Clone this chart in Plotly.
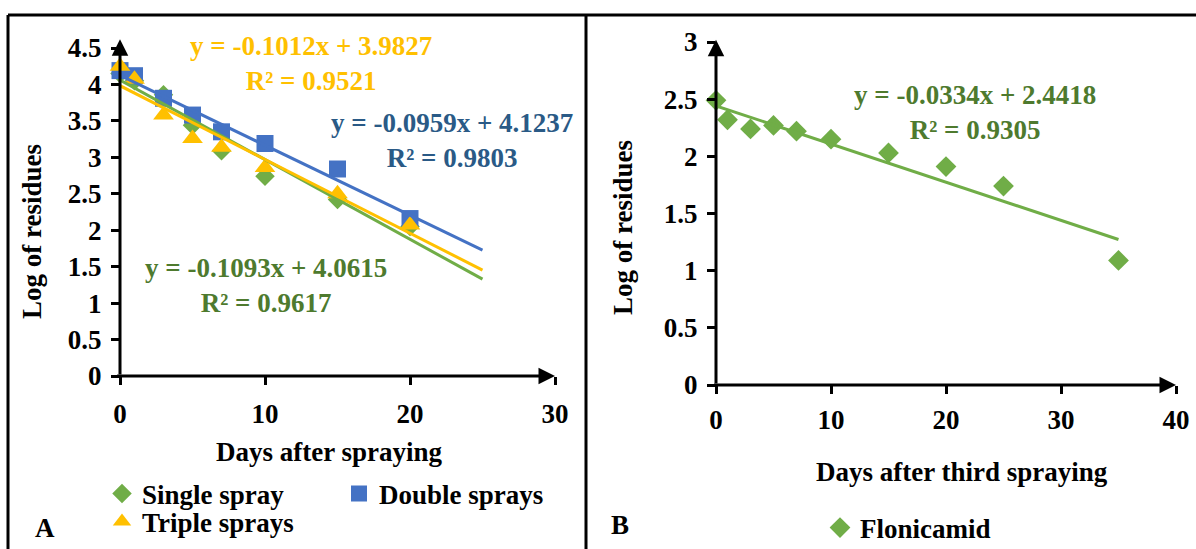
import plotly.graph_objects as go

# ---------------- data ----------------
days_a = [0, 1, 3, 5, 7, 10, 15, 20]
single_spray = [4.15, 4.05, 3.86, 3.44, 3.09, 2.74, 2.42, 2.05]
double_sprays = [4.19, 4.12, 3.81, 3.58, 3.35, 3.19, 2.84, 2.16]
triple_sprays = [4.25, 4.07, 3.58, 3.26, 3.14, 2.86, 2.50, 2.07]

days_b = [0, 1, 3, 5, 7, 10, 15, 20, 25, 35]
flonicamid = [2.49, 2.32, 2.24, 2.27, 2.22, 2.15, 2.03, 1.91, 1.74, 1.09]

# trendline coefficients (slope, intercept, R²) as printed on the chart
trend_single = (-0.1093, 4.0615, 0.9617)
trend_double = (-0.0959, 4.1237, 0.9803)
trend_triple = (-0.1012, 3.9827, 0.9521)
trend_flon = (-0.0334, 2.4418, 0.9305)
trend_x_a = [0, 25]
trend_x_b = [0, 35]

x_ticks_a = [0, 10, 20, 30]
x_ticks_b = [0, 10, 20, 30, 40]

# ---------------- style ----------------
GREEN = "#70AD47"
BLUE = "#4472C4"
YELLOW = "#FFC000"
GREEN_TXT = "#4E7A2E"
BLUE_TXT = "#2A5A86"
FONT = "Liberation Serif"
FS = 27
W, H = 1196, 549


def px(x):
    return x / W


def py(y):
    return 1 - y / H


fig = go.Figure()

# markers, panel A
fig.add_trace(go.Scatter(x=days_a, y=single_spray, mode="markers", name="Single spray",
                         marker=dict(symbol="diamond", size=15, color=GREEN),
                         cliponaxis=False, legend="legend"))
fig.add_trace(go.Scatter(x=days_a, y=double_sprays, mode="markers", name="Double sprays",
                         marker=dict(symbol="square", size=17, color=BLUE),
                         cliponaxis=False, legend="legend"))
fig.add_trace(go.Scatter(x=days_a, y=triple_sprays, mode="markers", name="Triple sprays",
                         marker=dict(symbol="triangle-up", size=18, color=YELLOW),
                         cliponaxis=False, legend="legend2"))


def line_pts(coef, xs):
    return [coef[0] * x + coef[1] for x in xs]


for coef, col in [(trend_single, GREEN), (trend_double, BLUE), (trend_triple, YELLOW)]:
    fig.add_trace(go.Scatter(x=trend_x_a, y=line_pts(coef, trend_x_a), mode="lines",
                             line=dict(color=col, width=3), showlegend=False,
                             cliponaxis=False, hoverinfo="skip"))

# panel B
fig.add_trace(go.Scatter(x=days_b, y=flonicamid, mode="markers", name="Flonicamid",
                         marker=dict(symbol="diamond", size=16, color=GREEN),
                         cliponaxis=False, xaxis="x2", yaxis="y2", legend="legend3"))
fig.add_trace(go.Scatter(x=trend_x_b, y=line_pts(trend_flon, trend_x_b), mode="lines",
                         line=dict(color=GREEN, width=3), showlegend=False,
                         cliponaxis=False, hoverinfo="skip", xaxis="x2", yaxis="y2"))

tickfont = dict(family=FONT, size=FS, color="black", weight="bold")
axis_common = dict(showgrid=False, zeroline=False, showline=False, ticks="outside",
                   ticklen=8, tickwidth=2.5, tickcolor="black", tickfont=tickfont)
legfont = dict(family=FONT, size=FS, color="black", weight="bold")

fig.update_layout(
    width=W, height=H,
    margin=dict(l=0, r=0, t=0, b=0, autoexpand=False),
    paper_bgcolor="white", plot_bgcolor="white",
    font=dict(family=FONT, color="black"),
    xaxis=dict(domain=[px(120), px(555)], range=[0, 30], tickvals=x_ticks_a,
               anchor="y", ticklabelstandoff=6, **axis_common),
    yaxis=dict(domain=[py(376), py(48)], range=[0, 4.5], dtick=0.5,
               anchor="x", ticklabelstandoff=4, **axis_common),
    xaxis2=dict(domain=[px(716), px(1176)], range=[0, 40], tickvals=x_ticks_b,
                anchor="y2", ticklabelstandoff=3, **axis_common),
    yaxis2=dict(domain=[py(385), py(42)], range=[0, 3], dtick=0.5,
                anchor="x2", ticklabelstandoff=4, **axis_common),
    legend=dict(orientation="h", x=px(102), y=py(494), yanchor="middle", xanchor="left",
                font=legfont, entrywidth=192, entrywidthmode="pixels", itemwidth=30,
                bgcolor="rgba(0,0,0,0)", tracegroupgap=0),
    legend2=dict(orientation="h", x=px(102), y=py(522), yanchor="middle", xanchor="left",
                 font=legfont, itemwidth=30, bgcolor="rgba(0,0,0,0)"),
    legend3=dict(orientation="h", x=px(820), y=py(528), yanchor="middle", xanchor="left",
                 font=legfont, itemwidth=30, bgcolor="rgba(0,0,0,0)"),
    showlegend=True,
)

annotations = []


def txt(x, y, text, size=FS, color="black", angle=0):
    annotations.append(dict(x=px(x), y=py(y), xref="paper", yref="paper", text=text,
                            showarrow=False, textangle=angle, xanchor="center", yanchor="middle",
                            font=dict(family=FONT, size=size, color=color, weight="bold")))


def eq(coef):
    return f"y = {coef[0]:.4f}x + {coef[1]:.4f}<br>R² = {coef[2]:.4f}"


txt(311, 63, eq(trend_triple), FS, YELLOW)
txt(452, 140, eq(trend_double), FS, BLUE_TXT)
txt(266, 285, eq(trend_single), FS, GREEN_TXT)
txt(975, 112, eq(trend_flon), FS, GREEN_TXT)

txt(329, 452, "Days after spraying")
txt(962, 472, "Days after third spraying")
txt(32, 232, "Log of residues", angle=-90)
txt(623, 228, "Log of residues", angle=-90)
txt(45, 528, "A")
txt(620, 525, "B")

# axis arrows
for xr, yr, x0, y0, x1, y1 in [("x", "y", 0, 0, 0, 4.62), ("x", "y", -0.3, 0, 30, 0),
                               ("x2", "y2", 0, 0, 0, 3.02), ("x2", "y2", -0.3, 0, 40, 0)]:
    annotations.append(dict(x=x1, y=y1, ax=x0, ay=y0, xref=xr, yref=yr, axref=xr, ayref=yr,
                            text="", showarrow=True, arrowhead=2, arrowsize=1.1,
                            arrowwidth=3, arrowcolor="black", standoff=0))

fig.update_layout(annotations=annotations)

# frame lines
line = dict(color="black", width=3)
fig.add_shape(type="line", xref="paper", yref="paper", x0=px(8), x1=1, y0=py(15), y1=py(15), line=line)
fig.add_shape(type="line", xref="paper", yref="paper", x0=px(8), x1=px(8), y0=py(15), y1=0, line=line)
fig.add_shape(type="line", xref="paper", yref="paper", x0=px(586), x1=px(586), y0=py(15), y1=0, line=line)

fig.write_html("out.html", config={"displayModeBar": False},
               post_script="document.body.style.margin='0';document.body.style.overflow='hidden';")
